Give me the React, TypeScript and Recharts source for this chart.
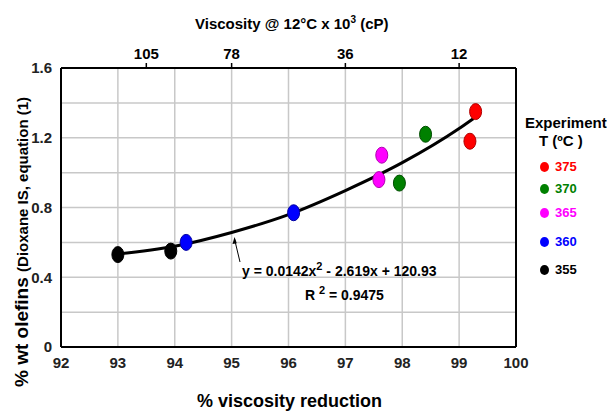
import { ComposedChart, Line, Scatter, XAxis, YAxis, CartesianGrid, Customized } from 'recharts';

const FONT = '"Liberation Sans", Arial, sans-serif';

// experiment temperatures, legend order
const temps = ['375', '370', '365', '360', '355'];
const colors = ['#ff0000', '#008000', '#ff00ff', '#0000ff', '#000000'];
const strokes = ['#b00000', '#004d00', '#b000b0', '#0000a0', '#000000'];
// % viscosity reduction / % wt olefins per temperature
const pointsX = [[99.29, 99.19], [98.41, 97.95], [97.64, 97.59], [96.09, 94.2], [93.93, 93.0]];
const pointsY = [[1.35, 1.18], [1.22, 0.94], [1.1, 0.96], [0.77, 0.6], [0.55, 0.53]];

// fitted curve
const trendX = [93, 94, 95, 96, 97, 98, 99, 99.25];
const trendY = [0.534, 0.578, 0.657, 0.759, 0.897, 1.057, 1.253, 1.31];

const xTicks = [92, 93, 94, 95, 96, 97, 98, 99, 100];
const yTicks = [0, 0.2, 0.4, 0.6, 0.8, 1.0, 1.2, 1.4, 1.6];
const yTickLabels = ['0', '', '0.4', '', '0.8', '', '1.2', '', '1.6'];
// top axis: viscosity (x10^3 cP) at given % reduction
const topTicks = [93.5, 95, 97, 99];
const topTickLabels = ['105', '78', '36', '12'];

const trend = trendX.map((x, i) => ({ x, y: trendY[i] }));

const Ellipse = (props: any) => {
  const { cx, cy, fill, stroke } = props;
  return <ellipse cx={cx} cy={cy} rx={6} ry={8} fill={fill} stroke={stroke} strokeWidth={1} />;
};

const NoShape = () => <g />;

function Annotation() {
  return (
    <g fontFamily={FONT} fontWeight="bold" fill="#000">
      <line x1={240} y1={262} x2={234.5} y2={239} stroke="#000" strokeWidth={1} />
      <path d="M234.5,237 L232.5,244 L236.8,243.2 Z" fill="#000" />
      <text x={242} y={276} fontSize={14}>
        <tspan>y = 0.0142x</tspan>
        <tspan dy={-6} fontSize={11}>2</tspan>
        <tspan dy={6}> - 2.619x + 120.93</tspan>
      </text>
      <text x={305} y={300} fontSize={14}>
        <tspan>R </tspan>
        <tspan dy={-6} fontSize={11}>2</tspan>
        <tspan dy={6}> = 0.9475</tspan>
      </text>
      <text x={195} y={29} fontSize={15}>
        <tspan>Viscosity @ 12°C x 10</tspan>
        <tspan dy={-6} fontSize={10}>3</tspan>
        <tspan dy={6}> (cP)</tspan>
      </text>
      <text x={197} y={407} fontSize={19} textLength={185} lengthAdjust="spacingAndGlyphs">% viscosity reduction</text>
      <text x={28} y={387} transform="rotate(-90, 28, 387)">
        <tspan fontSize={19}>% wt olefins </tspan>
        <tspan fontSize={15}>(Dioxane IS, equation (1)</tspan>
      </text>
    </g>
  );
}

const tickFont = { fill: '#222', fontSize: 15, fontWeight: 'bold', fontFamily: FONT };

export default function App() {
  return (
    <div style={{ position: 'absolute', left: 0, top: 0, width: 607, height: 412, background: '#fff' }}>
      <ComposedChart width={607} height={412} margin={{ top: 38, right: 90, bottom: 35, left: 21 }}>
        <CartesianGrid stroke="#c8c8c8" strokeWidth={1.5} horizontalValues={yTicks} verticalValues={xTicks} />
        <XAxis
          dataKey="x"
          type="number"
          domain={[92, 100]}
          ticks={xTicks}
          height={30}
          tickLine={false}
          axisLine={{ stroke: '#000', strokeWidth: 2 }}
          tick={tickFont}
          tickMargin={4}
          interval={0}
        />
        <XAxis
          xAxisId="top"
          orientation="top"
          dataKey="x"
          type="number"
          domain={[92, 100]}
          ticks={topTicks}
          height={30}
          tickSize={5}
          tickLine={{ stroke: '#000', strokeWidth: 1.5 }}
          axisLine={{ stroke: '#000', strokeWidth: 2 }}
          tick={{ ...tickFont, fill: '#000' }}
          tickFormatter={(v: number, i: number) => topTickLabels[i]}
          tickMargin={4}
          interval={0}
        />
        <YAxis
          type="number"
          domain={[0, 1.6]}
          ticks={yTicks}
          width={40}
          tickLine={false}
          axisLine={{ stroke: '#000', strokeWidth: 2 }}
          tick={tickFont}
          tickFormatter={(v: number, i: number) => yTickLabels[i]}
          tickMargin={3}
          interval={0}
        />
        <YAxis
          yAxisId="right"
          orientation="right"
          type="number"
          domain={[0, 1.6]}
          width={1}
          tick={false}
          tickLine={false}
          axisLine={{ stroke: '#000', strokeWidth: 2 }}
        />
        <Line
          data={trend}
          dataKey="y"
          type="monotone"
          stroke="#000"
          strokeWidth={3}
          dot={false}
          isAnimationActive={false}
        />
        {/* invisible series so the top viscosity axis gets drawn */}
        <Scatter
          data={trend}
          dataKey="y"
          xAxisId="top"
          yAxisId="right"
          shape={NoShape}
          isAnimationActive={false}
        />
        {temps.map((t, k) => (
          <Scatter
            key={t}
            name={t}
            data={pointsX[k].map((x, i) => ({ x, y: pointsY[k][i] }))}
            dataKey="y"
            fill={colors[k]}
            stroke={strokes[k]}
            shape={Ellipse}
            isAnimationActive={false}
          />
        ))}
        <Customized component={Annotation} />
      </ComposedChart>
      <div style={{ position: 'absolute', left: 525, top: 114, width: 90, fontFamily: FONT, fontWeight: 'bold', color: '#000' }}>
        <div style={{ fontSize: 15, lineHeight: '18px' }}>Experiment</div>
        <div style={{ fontSize: 15, lineHeight: '18px', paddingLeft: 14 }}>T (ºC )</div>
      </div>
      {temps.map((t, k) => (
        <div
          key={t}
          style={{
            position: 'absolute',
            left: 540,
            top: [159, 181, 205, 234, 262][k],
            display: 'flex',
            alignItems: 'center',
            fontFamily: FONT,
            fontWeight: 'bold',
            fontSize: 13,
            color: colors[k],
          }}
        >
          <span style={{ width: 9, height: 10, borderRadius: '50%', background: colors[k], marginRight: 6 }} />
          {t}
        </div>
      ))}
    </div>
  );
}
